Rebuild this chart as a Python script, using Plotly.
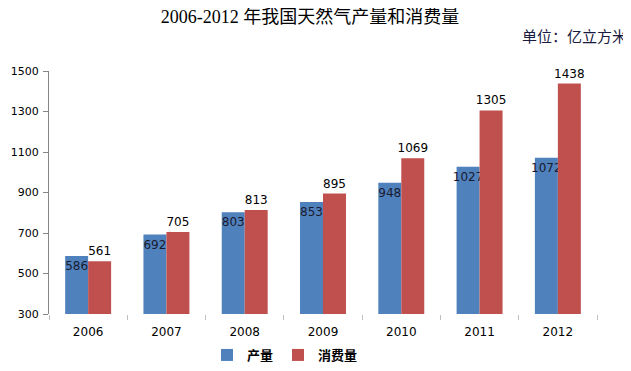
import plotly.graph_objects as go

years = ["2006", "2007", "2008", "2009", "2010", "2011", "2012"]
production = [586, 692, 803, 853, 948, 1027, 1072]
consumption = [561, 705, 813, 895, 1069, 1305, 1438]
series_names = ["产量", "消费量"]
y_ticks = [300, 500, 700, 900, 1100, 1300, 1500]

BLUE = "#4F81BD"
RED = "#C0504D"
SANS = "DejaVu Sans, Verdana, sans-serif"
SERIF = "Liberation Serif, Noto Sans CJK SC, serif"

# page body has an 8px margin; figure is drawn from (8, 8)
OFF = 8
W, H = 631 - OFF, 371 - OFF
PL, PR, PT, PB = 49, 597, 71, 314  # plot area in window pixels
ML, MT = PL - OFF, PT - OFF
MR, MB = W - (PR - OFF), H - (PB - OFF)
PW, PH = PR - PL, PB - PT

fig = go.Figure()
fig.add_trace(go.Bar(
    x=years, y=production, name=series_names[0],
    marker=dict(color=BLUE, line=dict(width=0)),
    text=[str(v) for v in production],
    textposition="inside", insidetextanchor="end", textangle=0,
    constraintext="none", cliponaxis=False,
    insidetextfont=dict(family=SANS, size=12, color="#1a1a2e"),
))
fig.add_trace(go.Bar(
    x=years, y=consumption, name=series_names[1],
    marker=dict(color=RED, line=dict(width=0)),
    text=[str(v) for v in consumption],
    textposition="outside", textangle=0,
    constraintext="none", cliponaxis=False,
    outsidetextfont=dict(family=SANS, size=12, color="#000000"),
))

fig.update_layout(
    width=W, height=H,
    margin=dict(l=ML, r=MR, t=MT, b=MB, autoexpand=False),
    paper_bgcolor="white", plot_bgcolor="white",
    barmode="group", bargap=0.413, bargroupgap=0,
    title=dict(
        text="2006-2012 年我国天然气产量和消费量",
        x=(310 - OFF) / W, xanchor="center", y=1 - (17 - OFF) / H, yanchor="middle",
        font=dict(family=SERIF, size=18, color="#000000"),
    ),
    showlegend=True,
    legend=dict(
        orientation="h", xref="container", yref="container",
        x=(207 - OFF) / W, xanchor="left",
        y=1 - (355 - OFF) / H, yanchor="middle",
        font=dict(family="Noto Sans CJK SC", size=13, color="#000000", weight="bold"),
        traceorder="normal",
        bgcolor="rgba(0,0,0,0)",
    ),
    xaxis=dict(
        type="category", showgrid=False, showline=False, zeroline=False,
        automargin=False,
        ticks="outside", tickson="boundaries", ticklen=5, tickcolor="#bfbfbf",
        ticklabelstandoff=9,
        tickfont=dict(family=SANS, size=12, color="#000000"),
    ),
    yaxis=dict(
        range=[300, 1500], tickvals=y_ticks, showgrid=False, zeroline=False,
        automargin=False,
        showline=True, linecolor="#868686", linewidth=1,
        ticks="outside", ticklen=5, tickcolor="#868686",
        ticklabelstandoff=2,
        tickfont=dict(family=SANS, size=11, color="#000000"),
    ),
    annotations=[dict(
        text="单位：亿立方米", xref="paper", yref="paper",
        x=(629 - PL) / PW, xanchor="right",
        y=1 + (PT - 37) / PH, yanchor="middle",
        showarrow=False,
        font=dict(family=SERIF, size=15, color="#1a1a40"),
    )],
)

fig.write_html("out.html")
